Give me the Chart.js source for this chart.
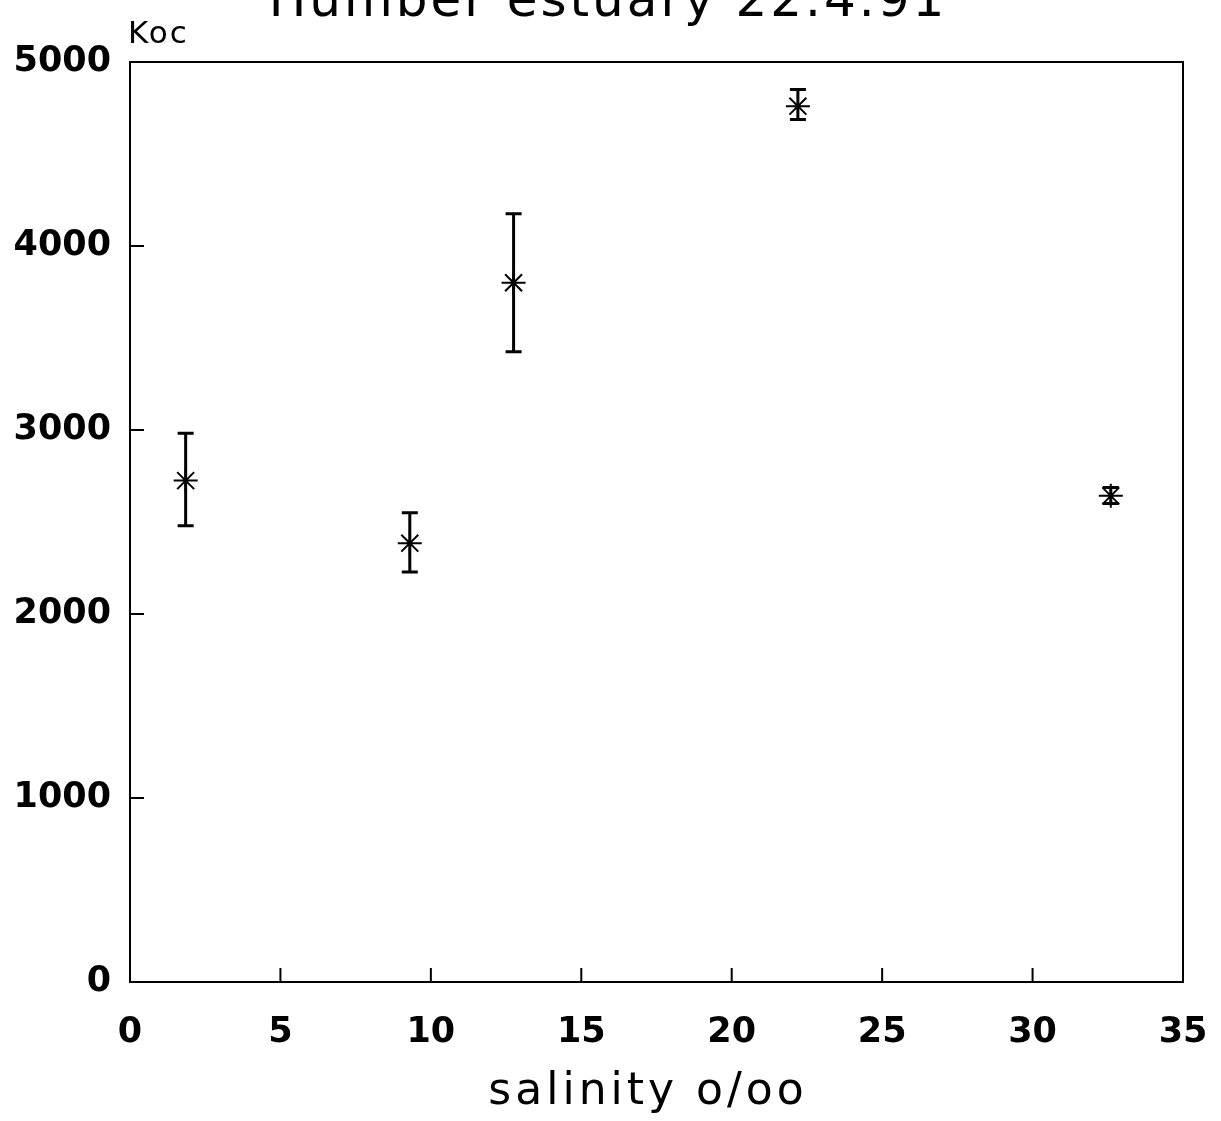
<!DOCTYPE html>
<html>
<head>
<meta charset="utf-8">
<script src="https://cdn.jsdelivr.net/npm/chart.js@4"></script>
<style>
  html, body { margin: 0; padding: 0; background: #fff; }
  #wrap { width: 1221px; height: 1121px; }
</style>
</head>
<body>
<div id="wrap"><canvas id="myChart" width="1221" height="1121"></canvas></div>
<script>
  // salinity (o/oo) and Koc with min/max range
  const salinity = [1.85, 9.3, 12.75, 22.2, 32.6];
  const koc = [2725, 2385, 3800, 4760, 2642];
  const kocLow = [2480, 2228, 3425, 4688, 2600];
  const kocHigh = [2982, 2550, 4175, 4850, 2688];

  const xTicks = [0, 5, 10, 15, 20, 25, 30, 35];
  const yTicks = [0, 1000, 2000, 3000, 4000, 5000];

  const titleText = 'Humber estuary 22.4.91';
  const yLabel = 'Koc';
  const xLabel = 'salinity o/oo';

  const FONT = "'DejaVu Sans', sans-serif";

  // vertical range bars with caps
  const errorBars = {
    id: 'errorBars',
    beforeDatasetsDraw(chart) {
      const { ctx, scales: { x, y } } = chart;
      ctx.save();
      ctx.strokeStyle = '#000';
      ctx.lineWidth = 3;
      salinity.forEach((s, i) => {
        const px = x.getPixelForValue(s);
        const top = y.getPixelForValue(kocHigh[i]);
        const bot = y.getPixelForValue(kocLow[i]);
        ctx.beginPath();
        ctx.moveTo(px, top);
        ctx.lineTo(px, bot);
        ctx.moveTo(px - 8, top);
        ctx.lineTo(px + 8, top);
        ctx.moveTo(px - 8, bot);
        ctx.lineTo(px + 8, bot);
        ctx.stroke();
      });
      ctx.restore();
    }
  };

  // box around plot + inward ticks
  const frame = {
    id: 'frame',
    afterDraw(chart) {
      const { ctx, chartArea: a, scales: { x, y } } = chart;
      ctx.save();
      ctx.strokeStyle = '#000';
      ctx.lineWidth = 2;
      ctx.strokeRect(a.left, a.top, a.right - a.left, a.bottom - a.top);
      ctx.beginPath();
      yTicks.slice(1, -1).forEach(v => {
        const py = y.getPixelForValue(v);
        ctx.moveTo(a.left, py);
        ctx.lineTo(a.left + 14, py);
      });
      xTicks.slice(1, -1).forEach(v => {
        const px = x.getPixelForValue(v);
        ctx.moveTo(px, a.bottom);
        ctx.lineTo(px, a.bottom - 14);
      });
      ctx.stroke();
      ctx.restore();
    }
  };

  // title, y label and x label
  const texts = {
    id: 'texts',
    afterDraw(chart) {
      const { ctx, chartArea: a } = chart;
      ctx.save();
      ctx.fillStyle = '#000';
      ctx.textBaseline = 'alphabetic';

      ctx.letterSpacing = '3px';
      ctx.font = `50px ${FONT}`;
      ctx.textAlign = 'center';
      ctx.fillText(titleText, 608, 16);

      ctx.letterSpacing = '2px';
      ctx.font = `31px ${FONT}`;
      ctx.textAlign = 'left';
      ctx.fillText(yLabel, a.left - 2, 43);

      ctx.letterSpacing = '4px';
      ctx.font = `44px ${FONT}`;
      ctx.textAlign = 'center';
      ctx.fillText(xLabel, 648, 1104);
      ctx.restore();
    }
  };

  const data = {
    datasets: [{
      label: 'Koc',
      data: salinity.map((s, i) => ({ x: s, y: koc[i] })),
      pointStyle: 'star',
      pointRadius: 12,
      borderColor: '#000',
      backgroundColor: '#000',
      borderWidth: 2,
      showLine: false
    }]
  };

  const config = {
    type: 'scatter',
    data,
    plugins: [errorBars, frame, texts],
    options: {
      responsive: false,
      animation: false,
      layout: { padding: { top: 62, right: 38, left: 0, bottom: 0 } },
      plugins: {
        legend: { display: false },
        tooltip: { enabled: false }
      },
      scales: {
        x: {
          type: 'linear',
          min: 0,
          max: 35,
          afterBuildTicks: s => { s.ticks = xTicks.map(v => ({ value: v })); },
          afterFit: s => { s.height = 139; s.paddingLeft = 0; s.paddingRight = 0; },
          grid: { display: false, drawTicks: false },
          border: { display: true, color: '#000', width: 2 },
          ticks: {
            color: '#000',
            padding: 30,
            maxRotation: 0,
            font: { family: FONT, size: 35, weight: 'bold' }
          }
        },
        y: {
          type: 'linear',
          min: 0,
          max: 5000,
          afterBuildTicks: s => { s.ticks = yTicks.map(v => ({ value: v })); },
          afterFit: s => { s.width = 130; s.paddingTop = 0; s.paddingBottom = 0; },
          grid: { display: false, drawTicks: false },
          border: { display: true, color: '#000', width: 2 },
          ticks: {
            color: '#000',
            padding: 19,
            callback: v => String(v),
            font: { family: FONT, size: 35, weight: 'bold' }
          }
        }
      }
    }
  };

  const myChart = new Chart(document.getElementById('myChart'), config);
</script>
</body>
</html>
